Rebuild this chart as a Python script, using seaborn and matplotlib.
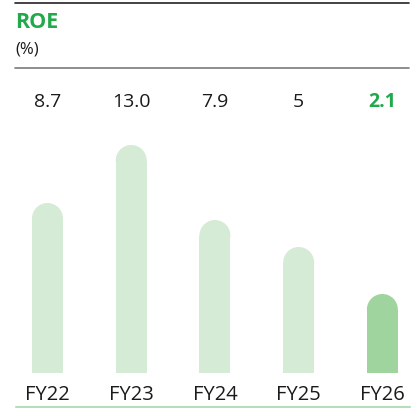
import matplotlib
matplotlib.use("Agg")
import matplotlib.pyplot as plt
import matplotlib.transforms as mtransforms
from matplotlib.patches import Ellipse
from matplotlib.lines import Line2D
import seaborn as sns
import pandas as pd

# data
years = ["FY22", "FY23", "FY24", "FY25", "FY26"]
roe_labels = ["8.7", "13.0", "7.9", "5", "2.1"]
# bar heights as drawn (pixels above the baseline, incl. rounded cap)
bar_heights = [170, 228, 153, 126, 79]

W, H = 411, 408
LIGHT = "#d5ebd5"
DARK = "#9fd49e"
GREEN = "#22a94b"
FONT = ["Open Sans", "DejaVu Sans"]

sns.set_theme(style="white")
plt.rcParams["font.family"] = FONT

fig = plt.figure(figsize=(W / 100, H / 100), dpi=100)
# axes: 1 y-unit = 1 pixel, baseline at 373 px from top
ax_left, ax_right = 14, 410
ax_bottom, ax_top = H - 373, 140
ax = fig.add_axes([ax_left / W, ax_bottom / H, (ax_right - ax_left) / W, (H - ax_top - ax_bottom) / H])

df = pd.DataFrame({"year": years, "h": bar_heights})
colors = [LIGHT] * (len(years) - 1) + [DARK]
bw = 0.37
sns.barplot(data=df, x="year", y="h", hue="year", palette=colors, legend=False,
            width=bw, saturation=1, ax=ax, linewidth=0)

ax.set_xlim(-0.4, 4.33)
ax.set_ylim(0, H - ax_top - ax_bottom)
ax.axis("off")

# rounded tops
r = 15.5
for p, c in zip(ax.patches, colors):
    h = p.get_height()
    p.set_height(h - r)
    cx = p.get_x() + p.get_width() / 2
    ax.add_patch(Ellipse((cx, h - r), p.get_width(), 2 * r, facecolor=c, edgecolor="none"))

trans = mtransforms.blended_transform_factory(ax.transData, fig.transFigure)
for i, (yr, lab) in enumerate(zip(years, roe_labels)):
    last = i == len(years) - 1
    ax.text(i, 1 - 102 / H, lab, transform=trans, ha="center", va="center",
            fontsize=14, color=GREEN if last else "#1a1a1a",
            fontweight="bold" if last else "normal")
    ax.text(i, 1 - 394.5 / H, yr, transform=trans, ha="center", va="center",
            fontsize=14.5, color="#1a1a1a")

fig.text(15 / W, 1 - 22 / H, "ROE", ha="left", va="center", fontsize=15.5,
         fontweight="bold", color=GREEN)
fig.text(15 / W, 1 - 50 / H, "(%)", ha="left", va="center", fontsize=12, color="#1a1a1a")

fig.add_artist(Line2D([15 / W, 409 / W], [1 - 3 / H] * 2, color="#222222", lw=1.2))
fig.add_artist(Line2D([15 / W, 409 / W], [1 - 67.5 / H] * 2, color="#7a7a7a", lw=1.2))
fig.add_artist(Line2D([16 / W, 410 / W], [1 - 406.5 / H] * 2, color="#b5dfbc", lw=1.5))

fig.savefig("out.png", dpi=100)
